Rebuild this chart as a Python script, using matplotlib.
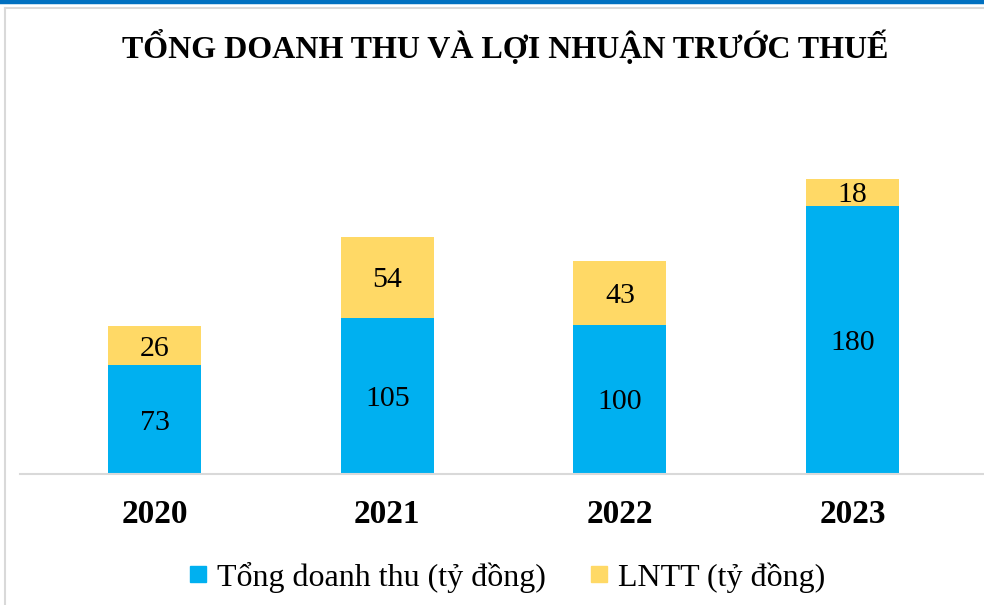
import matplotlib.pyplot as plt
from matplotlib.lines import Line2D

# Data
years = ['2020', '2021', '2022', '2023']
revenue = [73, 105, 100, 180]   # Tổng doanh thu (tỷ đồng)
profit = [26, 54, 43, 18]       # LNTT (tỷ đồng)

blue = '#00B0F0'
yellow = '#FFD966'

plt.rcParams['font.family'] = ['Liberation Serif', 'DejaVu Serif']

fig = plt.figure(figsize=(9.84, 6.05), dpi=100)

# Frame decoration (top blue rule, light gray border)
fig.add_artist(Line2D([0, 1], [1 - 1.5 / 605, 1 - 1.5 / 605], color='#0070C0', lw=3.2,
                      transform=fig.transFigure))
fig.add_artist(Line2D([5 / 984, 1], [1 - 8 / 605, 1 - 8 / 605], color='#D9D9D9', lw=1.5,
                      transform=fig.transFigure))
fig.add_artist(Line2D([5 / 984, 5 / 984], [0, 1 - 8 / 605], color='#D9D9D9', lw=1.5,
                      transform=fig.transFigure))

ax = fig.add_axes([20 / 984, 1 - 474 / 605, 1 - 20 / 984, (474 - 100) / 605])

x = range(len(years))
ax.bar(x, revenue, width=0.40, color=blue, label='Tổng doanh thu (tỷ đồng)')
ax.bar(x, profit, width=0.40, bottom=revenue, color=yellow, label='LNTT (tỷ đồng)')

for i in x:
    ax.text(i, revenue[i] / 2, str(revenue[i]), ha='center', va='center_baseline', fontsize=21.5)
    ax.text(i, revenue[i] + profit[i] / 2, str(profit[i]), ha='center', va='center_baseline',
            fontsize=21.5)

ax.set_xlim(-0.58, 3.566)
ax.set_ylim(0, 251)
ax.set_xticks(list(x))
ax.set_xticklabels(years, fontsize=24, fontweight='bold')
ax.tick_params(axis='x', length=0, pad=18)
ax.set_yticks([])
for s in ['top', 'right', 'left']:
    ax.spines[s].set_visible(False)
ax.spines['bottom'].set_color('#D9D9D9')
ax.spines['bottom'].set_linewidth(1.5)

fig.text(0.513, 1 - 48 / 605, 'TỔNG DOANH THU VÀ LỢI NHUẬN TRƯỚC THUẾ',
         ha='center', va='center', fontsize=23, fontweight='bold')

handles = [Line2D([], [], marker='s', color='none', markerfacecolor=blue, markeredgecolor=blue,
                  markersize=11, label='Tổng doanh thu (tỷ đồng)'),
           Line2D([], [], marker='s', color='none', markerfacecolor=yellow, markeredgecolor=yellow,
                  markersize=11, label='LNTT (tỷ đồng)')]
fig.legend(handles=handles, loc='center', bbox_to_anchor=(0.514, 1 - 577 / 605), ncol=2,
           frameon=False, fontsize=23, handlelength=0.7, handletextpad=0.25, columnspacing=1.3)

fig.savefig('out.png', dpi=100)
